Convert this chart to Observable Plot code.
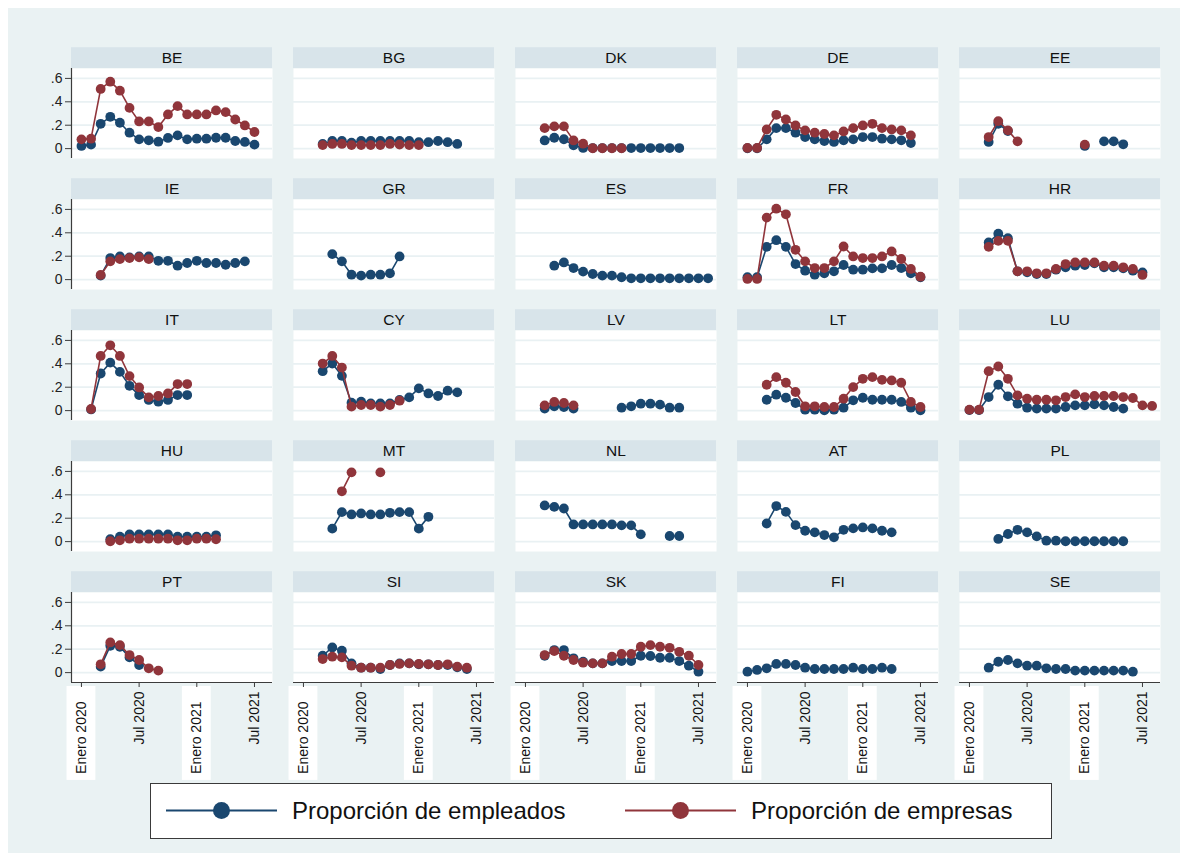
<!DOCTYPE html>
<html>
<head>
<meta charset="utf-8">
<script src="https://cdn.jsdelivr.net/npm/d3@7"></script>
<script src="https://cdn.jsdelivr.net/npm/@observablehq/plot@0.6"></script>
<style>
  html, body { margin: 0; padding: 0; background: #ffffff; }
  body { font-family: "Liberation Sans", Arial, Helvetica, sans-serif; }
  #frame { position: absolute; left: 8px; top: 8px; width: 1172px; height: 845px; background: #eaf2f3; }
  #chart { position: absolute; left: 0; top: 0; }
  #legend { position: absolute; left: 150px; top: 783px; width: 902px; height: 56px; box-sizing: border-box;
            background: #ffffff; border: 1.5px solid #3a3a3a; }
  #legend .lab { position: absolute; top: 0; height: 53px; line-height: 53px; font-size: 24px; color: #111; white-space: nowrap; }
</style>
</head>
<body>
<div id="frame"></div>
<div id="chart"></div>
<div id="legend"></div>
<script>
const _ = null;

// ---------------- data ----------------
const countries = ["BE","BG","DK","DE","EE","IE","GR","ES","FR","HR","IT","CY","LV","LT","LU","HU","MT","NL","AT","PL","PT","SI","SK","FI","SE"];
const months = ["2020-01","2020-02","2020-03","2020-04","2020-05","2020-06","2020-07","2020-08","2020-09","2020-10",
                "2020-11","2020-12","2021-01","2021-02","2021-03","2021-04","2021-05","2021-06","2021-07","2021-08"];
const xTickMonths = ["2020-01","2020-07","2021-01","2021-07"];
const xTickLabels = ["Enero 2020","Jul 2020","Enero 2021","Jul 2021"];
const yTicks = [0, 0.2, 0.4, 0.6];
const yTickLabels = ["0", ".2", ".4", ".6"];
const seriesNames = ["Proporción de empleados", "Proporción de empresas"];
const seriesColors = ["#1a476f", "#90353b"];

const BE_empleados = [0.023,0.034,0.212,0.272,0.221,0.136,0.079,0.071,0.059,0.091,0.113,0.079,0.085,0.085,0.093,0.093,0.065,0.057,0.034,_];
const BE_empresas  = [0.079,0.085,0.51,0.572,0.495,0.348,0.232,0.232,0.184,0.292,0.363,0.292,0.292,0.292,0.326,0.312,0.249,0.198,0.142,_];
const BG_empleados = [_,_,0.04,0.065,0.065,0.05,0.065,0.065,0.065,0.065,0.065,0.065,0.055,0.055,0.065,0.055,0.04,_,_,_];
const BG_empresas  = [_,_,0.03,0.04,0.04,0.03,0.03,0.03,0.03,0.04,0.035,0.03,0.03,_,_,_,_,_,_,_];
const DK_empleados = [_,_,0.07,0.093,0.08,0.028,0.006,0.005,0.005,0.005,0.005,0.005,0.005,0.005,0.005,0.005,0.005,_,_,_];
const DK_empresas  = [_,_,0.175,0.19,0.19,0.07,0.042,0.003,0.003,0.003,0.003,_,_,_,_,_,_,_,_,_];
const DE_empleados = [0.003,0.003,0.079,0.175,0.175,0.136,0.099,0.079,0.065,0.057,0.071,0.079,0.099,0.099,0.085,0.079,0.071,0.048,_,_];
const DE_empresas  = [0.006,0.006,0.164,0.289,0.249,0.198,0.156,0.136,0.125,0.113,0.147,0.175,0.198,0.212,0.175,0.164,0.156,0.113,_,_];
const EE_empleados = [_,_,0.057,0.212,0.15,_,_,_,_,_,_,_,0.023,_,0.062,0.062,0.037,_,_,_];
const EE_empresas  = [_,_,0.099,0.235,0.156,0.062,_,_,_,_,_,_,0.034,_,_,_,_,_,_,_];
const IE_empleados = [_,_,0.034,0.184,0.198,0.19,0.198,0.198,0.161,0.161,0.119,0.142,0.161,0.142,0.142,0.127,0.142,0.156,_,_];
const IE_empresas  = [_,_,0.04,0.156,0.175,0.184,0.19,0.175,_,_,_,_,_,_,_,_,_,_,_,_];
const GR_empleados = [_,_,_,0.218,0.156,0.042,0.034,0.042,0.042,0.054,0.198,_,_,_,_,_,_,_,_,_];
const GR_empresas  = [_,_,_,_,_,_,_,_,_,_,_,_,_,_,_,_,_,_,_,_];
const ES_empleados = [_,_,_,0.119,0.147,0.099,0.068,0.048,0.034,0.034,0.02,0.011,0.011,0.011,0.011,0.011,0.011,0.011,0.011,0.011];
const ES_empresas  = [_,_,_,_,_,_,_,_,_,_,_,_,_,_,_,_,_,_,_,_];
const FR_empleados = [0.02,0.02,0.28,0.337,0.28,0.133,0.076,0.042,0.054,0.071,0.125,0.085,0.085,0.096,0.096,0.125,0.099,0.054,0.02,_];
const FR_empresas  = [0.006,0.006,0.53,0.606,0.558,0.255,0.156,0.099,0.099,0.156,0.283,0.198,0.184,0.184,0.198,0.241,0.176,0.091,0.025,_];
const HR_empleados = [_,_,0.317,0.393,0.354,0.071,0.062,0.048,0.048,0.085,0.105,0.119,0.125,0.139,0.105,0.105,0.096,0.076,0.062,_];
const HR_empresas  = [_,_,0.28,0.331,0.331,0.071,0.071,0.054,0.054,0.091,0.133,0.147,0.147,0.147,0.119,0.119,0.105,0.091,0.04,_];
const IT_empleados = [_,0.01,0.317,0.41,0.331,0.212,0.133,0.091,0.076,0.091,0.133,0.133,_,_,_,_,_,_,_,_];
const IT_empresas  = [_,0.014,0.467,0.558,0.467,0.295,0.198,0.113,0.125,0.147,0.227,0.227,_,_,_,_,_,_,_,_];
const CY_empleados = [_,_,0.337,0.402,0.297,0.068,0.076,0.062,0.062,0.062,0.091,0.113,0.19,0.147,0.125,0.17,0.156,_,_,_];
const CY_empresas  = [_,_,0.402,0.467,0.368,0.034,0.048,0.048,0.034,0.048,0.085,_,_,_,_,_,_,_,_,_];
const LV_empleados = [_,_,0.017,0.037,0.031,0.017,_,_,_,_,0.025,0.037,0.059,0.059,0.051,0.025,0.025,_,_,_];
const LV_empresas  = [_,_,0.045,0.074,0.065,0.045,_,_,_,_,_,_,_,_,_,_,_,_,_,_];
const LT_empleados = [_,_,0.093,0.136,0.11,0.065,0.008,0.008,0.002,0.008,0.025,0.088,0.11,0.093,0.093,0.093,0.074,0.025,0.003,_];
const LT_empresas  = [_,_,0.221,0.286,0.238,0.159,0.037,0.037,0.031,0.031,0.102,0.201,0.272,0.286,0.263,0.258,0.238,0.074,0.031,_];
const LU_empleados = [0.005,0.005,0.116,0.221,0.122,0.059,0.025,0.017,0.017,0.017,0.031,0.045,0.045,0.054,0.045,0.031,0.017,_,_,_];
const LU_empresas  = [0.008,0.008,0.337,0.377,0.272,0.13,0.102,0.093,0.093,0.088,0.116,0.139,0.116,0.125,0.125,0.125,0.116,0.108,0.045,0.04];
const HU_empleados = [_,_,_,0.02,0.042,0.062,0.062,0.062,0.062,0.062,0.042,0.042,0.042,0.042,0.054,_,_,_,_,_];
const HU_empresas  = [_,_,_,0.003,0.011,0.025,0.025,0.025,0.025,0.025,0.011,0.011,0.025,0.025,0.02,_,_,_,_,_];
const MT_empleados = [_,_,_,0.111,0.252,0.232,0.241,0.232,0.232,0.246,0.252,0.252,0.111,0.212,_,_,_,_,_,_];
const MT_empresas  = [_,_,_,_,0.43,0.592,_,_,0.592,_,_,_,_,_,_,_,_,_,_,_];
const NL_empleados = [_,_,0.309,0.297,0.283,0.147,0.147,0.147,0.147,0.147,0.139,0.139,0.062,_,_,0.048,0.048,_,_,_];
const NL_empresas  = [_,_,_,_,_,_,_,_,_,_,_,_,_,_,_,_,_,_,_,_];
const AT_empleados = [_,_,0.155,0.304,0.254,0.141,0.093,0.079,0.056,0.037,0.101,0.113,0.121,0.113,0.093,0.079,_,_,_,_];
const AT_empresas  = [_,_,_,_,_,_,_,_,_,_,_,_,_,_,_,_,_,_,_,_];
const PL_empleados = [_,_,_,0.023,0.065,0.101,0.079,0.045,0.008,0.008,0.003,0.003,0.003,0.003,0.003,0.003,0.003,_,_,_];
const PL_empresas  = [_,_,_,_,_,_,_,_,_,_,_,_,_,_,_,_,_,_,_,_];
const PT_empleados = [_,_,0.051,0.229,0.221,0.13,0.065,_,_,_,_,_,_,_,_,_,_,_,_,_];
const PT_empresas  = [_,_,0.071,0.258,0.235,0.15,0.108,0.037,0.017,_,_,_,_,_,_,_,_,_,_,_];
const SI_empleados = [_,_,0.144,0.215,0.187,0.079,0.042,0.042,0.031,0.065,0.079,0.079,0.071,0.071,0.065,0.065,0.045,0.031,_,_];
const SI_empresas  = [_,_,0.116,0.136,0.13,0.059,0.042,0.042,0.042,0.065,0.074,0.079,0.074,0.071,0.065,0.071,0.051,0.042,_,_];
const SK_empleados = [_,_,0.144,0.193,0.193,0.122,0.093,0.079,0.079,0.099,0.099,0.099,0.144,0.142,0.127,0.127,0.099,0.059,0.008,_];
const SK_empresas  = [_,_,0.15,0.184,0.144,0.108,0.085,0.079,0.079,0.136,0.159,0.159,0.221,0.235,0.221,0.212,0.178,0.144,0.065,_];
const FI_empleados = [0.008,0.023,0.037,0.074,0.074,0.065,0.042,0.031,0.031,0.031,0.031,0.042,0.031,0.031,0.042,0.031,_,_,_,_];
const FI_empresas  = [_,_,_,_,_,_,_,_,_,_,_,_,_,_,_,_,_,_,_,_];
const SE_empleados = [_,_,0.042,0.093,0.108,0.079,0.059,0.059,0.037,0.031,0.031,0.017,0.017,0.017,0.017,0.017,0.017,0.008,_,_];
const SE_empresas  = [_,_,_,_,_,_,_,_,_,_,_,_,_,_,_,_,_,_,_,_];

// ---------------- tables built from the arrays ----------------
const empleados = {BE:BE_empleados,BG:BG_empleados,DK:DK_empleados,DE:DE_empleados,EE:EE_empleados,IE:IE_empleados,GR:GR_empleados,
  ES:ES_empleados,FR:FR_empleados,HR:HR_empleados,IT:IT_empleados,CY:CY_empleados,LV:LV_empleados,LT:LT_empleados,LU:LU_empleados,
  HU:HU_empleados,MT:MT_empleados,NL:NL_empleados,AT:AT_empleados,PL:PL_empleados,PT:PT_empleados,SI:SI_empleados,SK:SK_empleados,
  FI:FI_empleados,SE:SE_empleados};
const empresas = {BE:BE_empresas,BG:BG_empresas,DK:DK_empresas,DE:DE_empresas,EE:EE_empresas,IE:IE_empresas,GR:GR_empresas,
  ES:ES_empresas,FR:FR_empresas,HR:HR_empresas,IT:IT_empresas,CY:CY_empresas,LV:LV_empresas,LT:LT_empresas,LU:LU_empresas,
  HU:HU_empresas,MT:MT_empresas,NL:NL_empresas,AT:AT_empresas,PL:PL_empresas,PT:PT_empresas,SI:SI_empresas,SK:SK_empresas,
  FI:FI_empresas,SE:SE_empresas};

const NCOL = 5;
const panels = countries.map((c, i) => ({country: c, col: i % NCOL, row: Math.floor(i / NCOL)}));
const rows = [];
panels.forEach(p => months.forEach((mo, j) => rows.push({...p, m: j, emp: empleados[p.country][j], firm: empresas[p.country][j]})));

const xTickValues = xTickMonths.map(m => months.indexOf(m));
const labelOf = v => xTickLabels[xTickValues.indexOf(v)];
const eneroTicks = xTickValues.filter(v => labelOf(v).startsWith("Enero"));
const julTicks = xTickValues.filter(v => !labelOf(v).startsWith("Enero"));
const lastRow = d3.max(panels, p => p.row);
const bottomPanels = panels.filter(p => p.row === lastRow);
const leftPanels = panels.filter(p => p.col === 0);
const eneroBoxes = bottomPanels.flatMap(p => eneroTicks.map(v => ({...p, m: v})));

// ---------------- layout ----------------
const FONT = '"Liberation Sans", Arial, Helvetica, sans-serif';
const W = 1186, H = 783;
const panelH = 91, headerH = 21;
const xDomain = [-1.035, 19.875];
const yDomain = [-0.0845, 0.6847];
const unit = panelH / (yDomain[1] - yDomain[0]);
const headerTop = yDomain[1] + headerH / unit;
const axisColor = "#3c3c3c";
const gridColor = "#e9f1f3";
const headerColor = "#d8e4ea";

const chart = Plot.plot({
  width: W, height: H,
  marginTop: 66, marginBottom: H - 684.2, marginLeft: 69, marginRight: 23,
  style: {background: "transparent", fontFamily: FONT, fontSize: "14px", overflow: "visible", color: "#111"},
  fx: {domain: d3.range(NCOL), paddingInner: 21 / 223, paddingOuter: 0, axis: null, label: null},
  fy: {domain: d3.range(5), paddingInner: 40.8 / 131.8, paddingOuter: 0, axis: null, label: null},
  x: {domain: xDomain, axis: null, label: null},
  y: {domain: yDomain, axis: null, label: null},
  marks: [
    Plot.frame({fill: "white", stroke: "none"}),
    Plot.ruleY(yTicks, {stroke: gridColor, strokeWidth: 1.8}),
    Plot.rect(panels, {fx: "col", fy: "row", x1: xDomain[0], x2: xDomain[1], y1: yDomain[1], y2: headerTop, fill: headerColor}),
    Plot.text(panels, {fx: "col", fy: "row", x: (xDomain[0] + xDomain[1]) / 2, y: (yDomain[1] + headerTop) / 2,
                       text: "country", fontSize: 15.5, fill: "#111"}),
    Plot.ruleX(leftPanels, {fx: "col", fy: "row", x: xDomain[0], stroke: axisColor, strokeWidth: 1.2}),
    Plot.ruleY(bottomPanels, {fx: "col", fy: "row", y: yDomain[0], stroke: axisColor, strokeWidth: 1.2}),
    Plot.line(rows, {fx: "col", fy: "row", x: "m", y: "emp", stroke: seriesColors[0], strokeWidth: 1.6}),
    Plot.dot(rows, {fx: "col", fy: "row", x: "m", y: "emp", r: 4.9, fill: seriesColors[0], stroke: "none"}),
    Plot.line(rows, {fx: "col", fy: "row", x: "m", y: "firm", stroke: seriesColors[1], strokeWidth: 1.6}),
    Plot.dot(rows, {fx: "col", fy: "row", x: "m", y: "firm", r: 4.9, fill: seriesColors[1], stroke: "none"}),
    Plot.axisY(yTicks, {tickFormat: d => yTickLabels[yTicks.indexOf(d)], tickSize: 6, tickPadding: 3,
                        stroke: axisColor, fill: "#222", fontSize: 14, label: null}),
    Plot.rect(eneroBoxes, {fx: "col", fy: "row", x1: d => d.m - 1.5, x2: d => d.m + 1.5,
                           y1: yDomain[0] - 4 / unit, y2: yDomain[0] - 99 / unit, fill: "white"}),
    Plot.axisX(julTicks, {tickFormat: labelOf, tickRotate: -90, tickSize: 5, tickPadding: 4,
                          stroke: axisColor, fill: "#111", fontSize: 14, label: null}),
    Plot.axisX(eneroTicks, {tickFormat: labelOf, tickRotate: -90, tickSize: 5, tickPadding: 14,
                            stroke: axisColor, fill: "#111", fontSize: 14, label: null})
  ]
});
document.getElementById("chart").appendChild(chart);

// ---------------- legend ----------------
const legend = document.getElementById("legend");
const lx = [15, 474];
const ns = "http://www.w3.org/2000/svg";
const lsvg = document.createElementNS(ns, "svg");
lsvg.setAttribute("width", 900); lsvg.setAttribute("height", 53);
lsvg.style.position = "absolute"; lsvg.style.left = "0"; lsvg.style.top = "0";
seriesNames.forEach((name, i) => {
  const line = document.createElementNS(ns, "line");
  line.setAttribute("x1", lx[i]); line.setAttribute("x2", lx[i] + 111);
  line.setAttribute("y1", 26.5); line.setAttribute("y2", 26.5);
  line.setAttribute("stroke", seriesColors[i]); line.setAttribute("stroke-width", 2.2);
  lsvg.appendChild(line);
  const c = document.createElementNS(ns, "circle");
  c.setAttribute("cx", lx[i] + 55.5); c.setAttribute("cy", 26.5); c.setAttribute("r", 8.5);
  c.setAttribute("fill", seriesColors[i]);
  lsvg.appendChild(c);
  const s = document.createElement("span");
  s.className = "lab"; s.textContent = name; s.style.left = (lx[i] + 126) + "px";
  legend.appendChild(s);
});
legend.appendChild(lsvg);
</script>
</body>
</html>
